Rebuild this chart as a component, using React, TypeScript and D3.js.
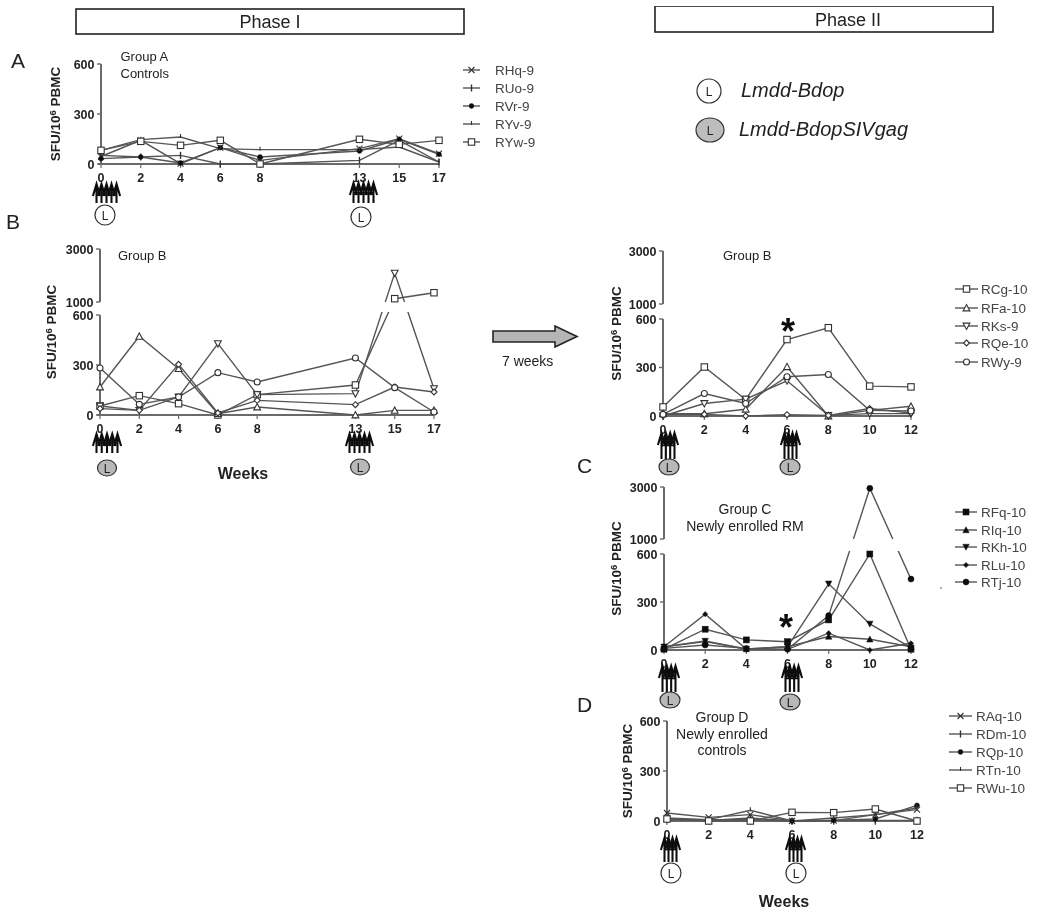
import React from "react";
import * as d3 from "d3";

const weeksI = [0, 2, 4, 6, 8, 13, 15, 17];
const weeksII = [0, 2, 4, 6, 8, 10, 12];
const plainTicks = [0, 300, 600];
const brokenTicks = [0, 300, 600, 1000, 3000];

// Group A
const RHq9 = [45, 142, 2, 98, 22, 92, 152, 62];
const RUo9 = [52, 42, 52, 0, 0, 22, 142, 12];
const RVr9 = [32, 42, 6, 98, 42, 78, 148, 58];
const RYv9 = [82, 146, 162, 92, 86, 86, 102, 12];
const RYw9 = [82, 136, 112, 142, 0, 148, 118, 142];

// Group B, phase I
const RCg10a = [54, 116, 68, 0, 122, 180, 1125, 1350];
const RFa10a = [168, 472, 278, 8, 48, 0, 28, 28];
const RKs9a = [54, 28, 108, 428, 122, 128, 2090, 158];
const RQe10a = [38, 28, 304, 12, 88, 62, 168, 138];
const RWy9a = [282, 64, 108, 254, 198, 342, 164, 18];

// Group B, phase II
const RCg10 = [56, 303, 102, 473, 546, 185, 180];
const RFa10 = [14, 14, 42, 305, 0, 35, 60];
const RKs9 = [0, 77, 104, 218, 4, 15, 15];
const RQe10 = [10, 10, 0, 8, 4, 46, 18];
const RWy9 = [10, 139, 77, 243, 257, 35, 31];

// Group C
const RFq10 = [5, 130, 63, 52, 188, 600, 5];
const RIq10 = [20, 52, 6, 20, 84, 67, 20];
const RKh10 = [20, 56, 6, 20, 414, 163, 15];
const RLu10 = [20, 224, 6, 4, 105, 0, 42];
const RTj10 = [10, 31, 10, 4, 215, 2950, 443];

// Group D
const RAq10 = [48, 22, 38, 0, 2, 38, 68];
const RDm10 = [8, 4, 18, 0, 4, 4, 4];
const RQp10 = [18, 8, 8, 0, 4, 12, 94];
const RTn10 = [8, 8, 64, 0, 18, 38, 78];
const RWu10 = [12, 0, 0, 52, 50, 72, 0];

type M = "x" | "tick" | "dot" | "tiny" | "square" | "triUp" | "triDown" | "diamond" | "circle" | "fSquare" | "fTriUp" | "fTriDown" | "fDiamond" | "fCircle";
type S = { name: string; values: number[]; m: M };

const groupA: S[] = [
  { name: "RHq-9", values: RHq9, m: "x" },
  { name: "RUo-9", values: RUo9, m: "tick" },
  { name: "RVr-9", values: RVr9, m: "dot" },
  { name: "RYv-9", values: RYv9, m: "tiny" },
  { name: "RYw-9", values: RYw9, m: "square" },
];
const groupBI: S[] = [
  { name: "RCg-10", values: RCg10a, m: "square" },
  { name: "RFa-10", values: RFa10a, m: "triUp" },
  { name: "RKs-9", values: RKs9a, m: "triDown" },
  { name: "RQe-10", values: RQe10a, m: "diamond" },
  { name: "RWy-9", values: RWy9a, m: "circle" },
];
const groupBII: S[] = [
  { name: "RCg-10", values: RCg10, m: "square" },
  { name: "RFa-10", values: RFa10, m: "triUp" },
  { name: "RKs-9", values: RKs9, m: "triDown" },
  { name: "RQe-10", values: RQe10, m: "diamond" },
  { name: "RWy-9", values: RWy9, m: "circle" },
];
const groupC: S[] = [
  { name: "RFq-10", values: RFq10, m: "fSquare" },
  { name: "RIq-10", values: RIq10, m: "fTriUp" },
  { name: "RKh-10", values: RKh10, m: "fTriDown" },
  { name: "RLu-10", values: RLu10, m: "fDiamond" },
  { name: "RTj-10", values: RTj10, m: "fCircle" },
];
const groupD: S[] = [
  { name: "RAq-10", values: RAq10, m: "x" },
  { name: "RDm-10", values: RDm10, m: "tick" },
  { name: "RQp-10", values: RQp10, m: "dot" },
  { name: "RTn-10", values: RTn10, m: "tiny" },
  { name: "RWu-10", values: RWu10, m: "square" },
];

const FONT = "'Liberation Sans', Arial, sans-serif";
const LINE = "#555";
const AXIS = "#6a6a6a";
const INK = "#222";

function Marker({ m, x, y }: { m: M; x: number; y: number }) {
  const st = { stroke: "#333", strokeWidth: 1.1 };
  const open = { ...st, fill: "#fff" };
  const solid = { fill: "#111", stroke: "#111", strokeWidth: 0.5 };
  const tri = (s: number, d: number) => `M${x},${y - d * s}L${x + s},${y + d * s * 0.85}L${x - s},${y + d * s * 0.85}Z`;
  const dia = (s: number) => `M${x},${y - s}L${x + s},${y}L${x},${y + s}L${x - s},${y}Z`;
  switch (m) {
    case "x":
      return <path d={`M${x - 3},${y - 3}L${x + 3},${y + 3}M${x - 3},${y + 3}L${x + 3},${y - 3}`} fill="none" {...st} />;
    case "tick":
      return <path d={`M${x},${y - 3.5}V${y + 3.5}`} fill="none" {...st} strokeWidth={1.4} />;
    case "dot":
      return <circle cx={x} cy={y} r={2.4} {...solid} />;
    case "tiny":
      return <path d={`M${x},${y - 3}V${y + 1}`} fill="none" {...st} />;
    case "square":
      return <rect x={x - 3.2} y={y - 3.2} width={6.4} height={6.4} {...open} />;
    case "triUp":
      return <path d={tri(3.4, 1)} {...open} />;
    case "triDown":
      return <path d={tri(3.4, -1)} {...open} />;
    case "diamond":
      return <path d={dia(3)} {...open} />;
    case "circle":
      return <circle cx={x} cy={y} r={3} {...open} />;
    case "fSquare":
      return <rect x={x - 3} y={y - 3} width={6} height={6} {...solid} />;
    case "fTriUp":
      return <path d={tri(3.2, 1)} {...solid} />;
    case "fTriDown":
      return <path d={tri(3.2, -1)} {...solid} />;
    case "fDiamond":
      return <path d={dia(2.6)} {...solid} />;
    default:
      return <circle cx={x} cy={y} r={3} {...solid} />;
  }
}

function YLabel({ x, y }: { x: number; y: number }) {
  return (
    <text transform={`translate(${x},${y}) rotate(-90)`} textAnchor="middle" fontFamily={FONT} fontWeight={700} fontSize={13.5} fill={INK}>
      SFU/10<tspan dy={-4} fontSize={9.5}>6</tspan><tspan dy={4}> PBMC</tspan>
    </text>
  );
}

type PanelP = {
  id: string;
  series: S[];
  weeks: number[];
  x0: number;
  x1: number;
  yDomain: number[];
  yRange: number[];
  ticks: number[];
  yLabelX: number;
};

function Panel({ id, series, weeks, x0, x1, yDomain, yRange, ticks, yLabelX }: PanelP) {
  const x = d3.scaleLinear().domain([weeks[0], weeks[weeks.length - 1]]).range([x0, x1]);
  const y = d3.scaleLinear().domain(yDomain).range(yRange);
  const broken = yDomain.length === 4;
  const line = d3.line<number>().x((_, i) => x(weeks[i])).y((v) => y(v));
  const yTop = y(yDomain[yDomain.length - 1]);
  const y0 = y(0);
  const paths = series.map((s) => (
    <path key={s.name} d={line(s.values) || ""} fill="none" stroke={LINE} strokeWidth={1.4} />
  ));
  return (
    <g>
      {broken && (
        <defs>
          <clipPath id={`${id}-low`}>
            <rect x={x0 - 10} y={y(600) - 3} width={x1 - x0 + 20} height={y0 - y(600) + 13} />
          </clipPath>
          <clipPath id={`${id}-up`}>
            <rect x={x0 - 10} y={yTop - 10} width={x1 - x0 + 20} height={y(1000) - yTop + 10} />
          </clipPath>
        </defs>
      )}
      {broken ? (
        <>
          <line x1={x0} x2={x0} y1={y0} y2={y(600)} stroke={AXIS} strokeWidth={2} />
          <line x1={x0} x2={x0} y1={y(1000)} y2={yTop} stroke={AXIS} strokeWidth={2} />
        </>
      ) : (
        <line x1={x0} x2={x0} y1={y0} y2={yTop} stroke={AXIS} strokeWidth={2} />
      )}
      <line x1={x0 - 3} x2={x1} y1={y0} y2={y0} stroke={AXIS} strokeWidth={2} />
      {ticks.map((t) => (
        <g key={t}>
          <line x1={x0 - 4} x2={x0} y1={y(t)} y2={y(t)} stroke={AXIS} strokeWidth={1.4} />
          <text x={x0 - 6.5} y={y(t) + 4.5} textAnchor="end" fontFamily={FONT} fontWeight={700} fontSize={12.5} fill={INK}>{t}</text>
        </g>
      ))}
      {weeks.map((w) => (
        <g key={w}>
          <line x1={x(w)} x2={x(w)} y1={y0} y2={y0 + 4} stroke={AXIS} strokeWidth={1.2} />
          <text x={x(w)} y={y0 + 18} textAnchor="middle" fontFamily={FONT} fontWeight={700} fontSize={12.5} fill={INK}>{w}</text>
        </g>
      ))}
      {broken ? (
        <>
          <g clipPath={`url(#${id}-low)`}>{paths}</g>
          <g clipPath={`url(#${id}-up)`}>{paths}</g>
        </>
      ) : paths}
      {series.map((s) => s.values.map((v, i) => <Marker key={s.name + i} m={s.m} x={x(weeks[i])} y={y(v)} />))}
      <YLabel x={yLabelX} y={(y0 + yTop) / 2} />
    </g>
  );
}

function Legend({ series, x0, x1, tx, ys }: { series: S[]; x0: number; x1: number; tx: number; ys: number[] }) {
  return (
    <g>
      {series.map((s, i) => (
        <g key={s.name}>
          <line x1={x0} x2={x1} y1={ys[i]} y2={ys[i]} stroke={LINE} strokeWidth={1.4} />
          <Marker m={s.m} x={(x0 + x1) / 2} y={ys[i]} />
          <text x={tx} y={ys[i] + 5} fontFamily={FONT} fontSize={13.5} fill="#444">{s.name}</text>
        </g>
      ))}
    </g>
  );
}

function Vaccine({ left, right, top, bottom, n, cx, cy, rx, ry, gray }: { left: number; right: number; top: number; bottom: number; n: number; cx: number; cy: number; rx: number; ry: number; gray: boolean }) {
  const xs = d3.range(n).map((i) => left + 3.5 + (i * (right - left - 7)) / (n - 1));
  const midY = top + (bottom - top) * 0.5;
  return (
    <g>
      {xs.map((a, i) => (
        <path key={i} d={`M${a - 3.6},${top + 13}L${a},${top + 1}L${a + 3.6},${top + 13}M${a},${top + 1}V${bottom}`} fill="none" stroke="#111" strokeWidth={2.1} />
      ))}
      <line x1={xs[0]} x2={xs[n - 1]} y1={midY} y2={midY} stroke="#111" strokeWidth={1.6} />
      <ellipse cx={cx} cy={cy} rx={rx} ry={ry} fill={gray ? "#b8b8b8" : "#fff"} stroke="#333" strokeWidth={1.2} />
      <text x={cx} y={cy + 4.5} textAnchor="middle" fontFamily={FONT} fontSize={12} fill="#222">L</text>
    </g>
  );
}

function T({ x, y, s, size = 13, anchor = "start", weight = 400, style = "normal", fill = INK }: any) {
  return <text x={x} y={y} fontFamily={FONT} fontSize={size} textAnchor={anchor} fontWeight={weight} fontStyle={style} fill={fill}>{s}</text>;
}

export default function App() {
  return (
    <svg width={1050} height={915} viewBox="0 0 1050 915" style={{ position: "absolute", left: 0, top: 0, display: "block", background: "#fff" }}>
      <defs>
        <filter id="soft" x="0" y="0" width="100%" height="100%">
          <feGaussianBlur stdDeviation="0.35" />
        </filter>
      </defs>
      <g filter="url(#soft)">
        <rect x={76} y={9} width={388} height={25} fill="#fff" stroke="#222" strokeWidth={1.6} />
        <T x={270} y={28} s="Phase I" size={18} anchor="middle" />
        <rect x={655} y={6} width={338} height={26} fill="#fff" stroke="#222" strokeWidth={1.6} />
        <T x={848} y={26} s="Phase II" size={18} anchor="middle" />

        <T x={11} y={68} s="A" size={21} />
        <T x={6} y={229} s="B" size={21} />
        <T x={577} y={473} s="C" size={21} />
        <T x={577} y={712} s="D" size={21} />

        <Panel id="a" series={groupA} weeks={weeksI} x0={101} x1={439} yDomain={[0, 600]} yRange={[164, 64]} ticks={plainTicks} yLabelX={60} />
        <T x={120.5} y={61} s="Group A" />
        <T x={120.5} y={78} s="Controls" />
        <Legend series={groupA} x0={463} x1={480} tx={495} ys={[70, 88, 106, 124, 142]} />
        <Vaccine left={93} right={120} top={183} bottom={203} n={5} cx={105} cy={215} rx={10} ry={10} gray={false} />
        <Vaccine left={350} right={377} top={182} bottom={203} n={5} cx={361} cy={217} rx={10} ry={10} gray={false} />

        <Panel id="b1" series={groupBI} weeks={weeksI} x0={100} x1={434} yDomain={[0, 600, 1000, 3000]} yRange={[415, 315, 302, 249]} ticks={brokenTicks} yLabelX={56} />
        <T x={118} y={260} s="Group B" />
        <Vaccine left={93} right={121} top={433} bottom={453} n={5} cx={107} cy={468} rx={9.5} ry={8} gray={true} />
        <Vaccine left={346} right={373} top={433} bottom={453} n={5} cx={360} cy={467} rx={9.5} ry={8} gray={true} />
        <T x={243} y={479} s="Weeks" size={16} weight={700} anchor="middle" />

        <Panel id="b2" series={groupBII} weeks={weeksII} x0={663} x1={911} yDomain={[0, 600, 1000, 3000]} yRange={[416, 319, 304, 251]} ticks={brokenTicks} yLabelX={621} />
        <T x={723} y={260} s="Group B" />
        <Legend series={groupBII} x0={955} x1={978} tx={981} ys={[289, 308, 326, 343, 362]} />
        <T x={788} y={344} s="*" size={36} weight={700} anchor="middle" fill="#111" />
        <Vaccine left={658} right={678} top={432} bottom={459} n={4} cx={669} cy={467} rx={10} ry={8} gray={true} />
        <Vaccine left={781} right={800} top={432} bottom={459} n={4} cx={790} cy={467} rx={10} ry={8} gray={true} />

        <Panel id="c" series={groupC} weeks={weeksII} x0={664} x1={911} yDomain={[0, 600, 1000, 3000]} yRange={[650, 554, 539, 487]} ticks={brokenTicks} yLabelX={621} />
        <T x={745} y={514} s="Group C" size={14} anchor="middle" />
        <T x={745} y={531} s="Newly enrolled RM" size={14} anchor="middle" />
        <Legend series={groupC} x0={955} x1={977} tx={981} ys={[512, 530, 547, 565, 582]} />
        <T x={786} y={640} s="*" size={36} weight={700} anchor="middle" fill="#111" />
        <circle cx={941} cy={588} r={0.8} fill="#444" />
        <Vaccine left={659} right={679} top={665} bottom={692} n={4} cx={670} cy={700} rx={10} ry={8} gray={true} />
        <Vaccine left={782} right={802} top={665} bottom={692} n={4} cx={790} cy={702} rx={10} ry={8} gray={true} />

        <Panel id="d" series={groupD} weeks={weeksII} x0={667} x1={917} yDomain={[0, 600]} yRange={[821, 721]} ticks={plainTicks} yLabelX={632} />
        <T x={722} y={722} s="Group D" size={14} anchor="middle" />
        <T x={722} y={739} s="Newly enrolled" size={14} anchor="middle" />
        <T x={722} y={755} s="controls" size={14} anchor="middle" />
        <Legend series={groupD} x0={949} x1={972} tx={976} ys={[716, 734, 752, 770, 788]} />
        <Vaccine left={661} right={680} top={837} bottom={862} n={4} cx={671} cy={873} rx={10} ry={10} gray={false} />
        <Vaccine left={786} right={805} top={837} bottom={862} n={4} cx={796} cy={873} rx={10} ry={10} gray={false} />
        <T x={784} y={907} s="Weeks" size={16} weight={700} anchor="middle" />

        <path d="M493,331H555V326L577,336.5L555,347V342H493Z" fill="#b5b5b5" stroke="#222" strokeWidth={1.6} />
        <T x={502} y={366} s="7 weeks" size={14} />

        <ellipse cx={709} cy={91} rx={12} ry={12} fill="#fff" stroke="#333" strokeWidth={1.2} />
        <T x={709} y={95.5} s="L" size={12} anchor="middle" />
        <ellipse cx={710} cy={130} rx={14} ry={12} fill="#bdbdbd" stroke="#333" strokeWidth={1.2} />
        <T x={710} y={134.5} s="L" size={12} anchor="middle" />
        <T x={741} y={97} s="Lmdd-Bdop" size={20} style="italic" />
        <T x={739} y={136} s="Lmdd-BdopSIVgag" size={20} style="italic" />
      </g>
    </svg>
  );
}
